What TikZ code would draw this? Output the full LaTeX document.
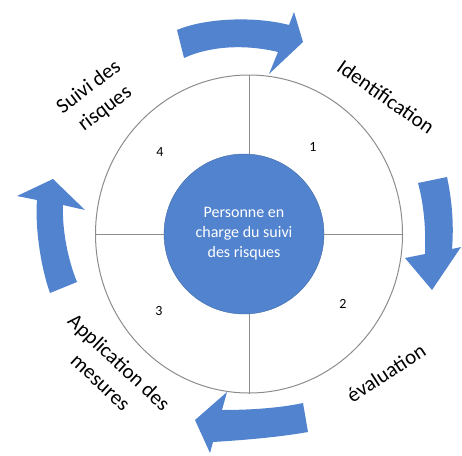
\documentclass[tikz,border=0pt]{standalone}
\usepackage{fontspec}
\setmainfont{Carlito}
\usepackage{tikz}
\usetikzlibrary{positioning,shapes.geometric}
\definecolor{riskblue}{RGB}{82,131,207}
\definecolor{ringgray}{RGB}{140,140,140}

\begin{document}
\begin{tikzpicture}[
      x=1pt, y=-1pt,
      ring/.style={ellipse, draw=ringgray, line width=1pt, inner sep=0pt, minimum width=307pt, minimum height=318pt},
      hub/.style={circle, fill=riskblue, draw=riskblue!80!black, line width=0.4pt, minimum size=160pt, inner sep=0pt, align=center, text=white, font=\fontsize{16}{20}\selectfont},
      num/.style={font=\fontsize{14}{16}\selectfont},
      stage/.style={align=center, font=\fontsize{21}{27}\selectfont},
      flow/.style={fill=riskblue, draw=none}]

      \useasboundingbox (0,0) rectangle (462,455);

      % Ring
      \node[ring] (ring) at (249,234) {};
      \draw[ringgray, line width=1pt] (ring.north) -- (ring.south)
                                      (ring.west) -- (ring.east);

      % Nodes
      \node[hub] (hub) at (244,234) {Personne en\\charge du suivi\\des risques};
      \node[num] (n1) at (313,147) {1};
      \node[num] (n2) at (343,304) {2};
      \node[num] (n3) at (159,311) {3};
      \node[num] (n4) at (160,152) {4};

      % Stages
      \node[stage, rotate=-35] (ident) at (386,97) {Identification};
      \node[stage, rotate=33]  (eval)  at (386,373) {évaluation};
      \node[stage, rotate=-43] (appl)  at (110,372) {Application des\\mesures};
      \node[stage, rotate=37]  (suivi) at (97,98) {Suivi des\\risques};

      % Arrows
      \fill[flow] (177,30) .. controls (205,18) and (255,16) .. (289,25) -- (294,12) -- (303,42) -- (269,74)
                  -- (278,52) .. controls (245,44) and (210,46) .. (184,58) -- cycle;
      \fill[flow] (418,183) -- (447,177) .. controls (452,200) and (454,225) .. (452,249) -- (461,247)
                  -- (432,290) -- (405,258) -- (425,254) .. controls (426,230) and (424,205) .. (418,183) -- cycle;
      \fill[flow] (308,432) .. controls (280,437) and (245,440) .. (213,442) -- (210,453) -- (195,420)
                  -- (227,392) -- (222,410) .. controls (250,410) and (280,408) .. (303,403) -- cycle;
      \fill[flow] (50,293) .. controls (40,265) and (35,225) .. (37,200) -- (17,196) -- (53,179) -- (85,210)
                  -- (63,205) .. controls (62,230) and (68,260) .. (77,282) -- cycle;

\end{tikzpicture}
\end{document}
